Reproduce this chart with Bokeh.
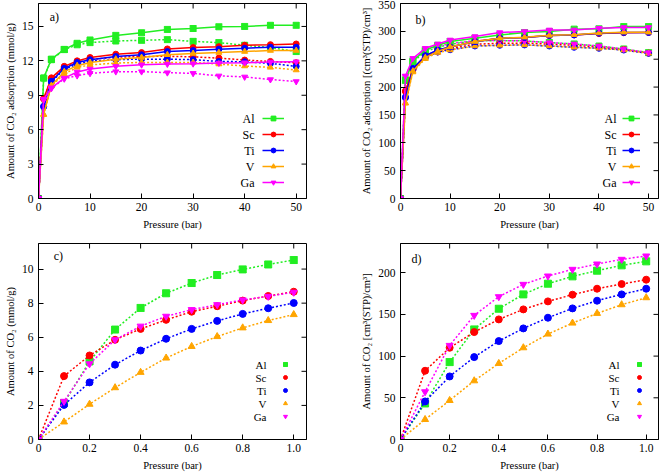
from bokeh.plotting import figure
from bokeh.layouts import column, row
from bokeh.models import Legend, LegendItem, FixedTicker, Label, Range1d
from bokeh.embed import file_html
from bokeh.resources import INLINE

# ---------------- data ----------------
metals = ["Al", "Sc", "Ti", "V", "Ga"]
colors = ["#22ee22", "#ff0000", "#0000ff", "#ffa500", "#ff00ff"]
markers = ["square_x", "circle", "circle", "triangle", "inverted_triangle"]

p_high = [0, 1, 2.5, 5, 7.5, 10, 15, 20, 25, 30, 35, 40, 45, 50]
p_low = [0, 0.1, 0.2, 0.3, 0.4, 0.5, 0.6, 0.7, 0.8, 0.9, 1.0]

# panel a (mmol/g, high pressure): solid and dotted curves
a_Al_solid = [0, 10.5, 12.15, 13.0, 13.53, 13.82, 14.22, 14.45, 14.74, 14.82, 14.97, 15.0, 15.1, 15.1]
a_Al_dotted = [0, 10.5, 12.1, 12.98, 13.4, 13.59, 13.73, 13.79, 13.85, 13.7, 13.59, 13.36, 13.16, 12.81]
a_Sc_solid = [0, 8.7, 10.52, 11.52, 12.0, 12.29, 12.58, 12.72, 13.04, 13.16, 13.24, 13.36, 13.41, 13.47]
a_Sc_dotted = [0, 8.7, 10.45, 11.42, 11.88, 12.12, 12.32, 12.38, 12.4, 12.35, 12.24, 12.07, 11.95, 11.84]
a_Ti_solid = [0, 8.04, 10.22, 11.35, 11.86, 12.1, 12.38, 12.53, 12.81, 12.9, 13.02, 13.1, 13.19, 13.19]
a_Ti_dotted = [0, 8.0, 10.15, 11.27, 11.72, 11.98, 12.1, 12.15, 12.15, 12.1, 11.95, 11.92, 11.78, 11.52]
a_V_solid = [0, 7.35, 9.85, 11.06, 11.58, 11.86, 12.15, 12.29, 12.53, 12.64, 12.72, 12.81, 12.9, 12.9]
a_V_dotted = [0, 7.3, 9.8, 10.86, 11.43, 11.64, 11.81, 11.86, 11.86, 11.86, 11.72, 11.55, 11.43, 11.2]
a_Ga_solid = [0, 8.65, 9.65, 10.5, 11.03, 11.29, 11.52, 11.66, 11.72, 11.75, 11.81, 11.84, 11.9, 11.92]
a_Ga_dotted = [0, 8.6, 9.6, 10.43, 10.71, 10.91, 11.06, 11.06, 10.97, 10.91, 10.69, 10.6, 10.37, 10.2]

# panel b (cm3(STP)/cm3, high pressure)
b_Al_solid = [0, 213, 247, 266.5, 275, 281.7, 287.6, 293.6, 297.9, 299.7, 304, 304.5, 308.5, 308.5]
b_Al_dotted = [0, 212, 245, 264, 271, 277, 283, 283.5, 282.8, 279.8, 277.4, 273.7, 268.4, 261.8]
b_Sc_solid = [0, 193, 232, 256, 266, 272, 281.7, 287.6, 289, 292.5, 293.6, 296, 297.5, 298]
b_Sc_dotted = [0, 192, 231, 254, 263, 269, 277, 278.5, 279, 277, 275, 272, 267.5, 261]
b_Ti_solid = [0, 182, 233.5, 256.4, 266.5, 272, 281.5, 287.5, 289, 292.5, 293.6, 296.7, 298, 298]
b_Ti_dotted = [0, 181, 231, 253, 263, 267, 273.7, 275, 275.6, 273.7, 271.4, 269.6, 266.5, 260.6]
b_V_solid = [0, 171.5, 228.7, 252.8, 264, 272, 281.7, 287.6, 289.5, 292.8, 294, 297, 298.5, 298.5]
b_V_dotted = [0, 171, 227, 251, 262, 266.5, 273.7, 275, 275.6, 273.7, 271.4, 269.6, 266.5, 260.6]
b_Ga_solid = [0, 220, 251.6, 269.6, 277.4, 284.6, 290.7, 297.9, 299.7, 302.6, 302.6, 305.7, 307, 307]
b_Ga_dotted = [0, 219, 249, 267, 273, 278, 283.5, 283.5, 282.8, 279.8, 277.4, 273.7, 268.4, 261.8]

# panel c (mmol/g, low pressure)
c_Al = [0, 2.14, 4.58, 6.45, 7.72, 8.58, 9.18, 9.65, 9.98, 10.27, 10.53]
c_Sc = [0, 3.72, 4.93, 5.85, 6.49, 7.02, 7.5, 7.82, 8.15, 8.42, 8.67]
c_Ti = [0, 2.03, 3.35, 4.39, 5.22, 5.91, 6.49, 6.96, 7.37, 7.7, 8.01]
c_V = [0, 1.03, 2.07, 3.04, 3.94, 4.78, 5.46, 6.04, 6.55, 6.98, 7.33]
c_Ga = [0, 2.24, 4.44, 5.85, 6.65, 7.23, 7.62, 7.91, 8.19, 8.4, 8.64]

# panel d (cm3(STP)/cm3, low pressure)
d_Al = [0, 43.2, 92.8, 132, 156.8, 174, 186.8, 195.6, 202.4, 208.8, 213.6]
d_Sc = [0, 82.4, 110, 128.8, 144, 156, 165.6, 173.6, 180.8, 186.4, 191.6]
d_Ti = [0, 45.6, 75.6, 98.8, 118, 133.2, 146, 157.2, 166.4, 174, 180.8]
d_V = [0, 24, 46.8, 70.4, 91.2, 110, 126.4, 139.6, 151.2, 161.6, 170]
d_Ga = [0, 57.2, 112.8, 148.8, 171.2, 186, 196, 204, 210.4, 216, 220]

a_xticks = [0, 10, 20, 30, 40, 50]
a_yticks = [0, 3, 6, 9, 12, 15]
b_yticks = [0, 50, 100, 150, 200, 250, 300, 350]
c_xticks = [0, 0.2, 0.4, 0.6, 0.8, 1.0]
c_xtick_labels = ["0", "0.2", "0.4", "0.6", "0.8", "1.0"]
c_yticks = [0, 2, 4, 6, 8, 10]
d_yticks = [0, 50, 100, 150, 200]

x_label = "Pressure (bar)"
a_ylabel = "Amount of CO\u2082 adsorption (mmol/g)"
b_ylabel = "Amount of CO\u2082 adsorption [(cm\u00b3(STP)/cm\u00b3]"
c_ylabel = "Amount of CO\u2082 (mmol/g)"
d_ylabel = "Amount of CO\u2082 [cm\u00b3(STP)/cm\u00b3]"

SERIF = "Liberation Serif"
TICK_LEN = 5

# shared grid geometry (same borders and frame sizes per row / column)
LEFT_W, RIGHT_W = 268, 258          # frame widths of left / right column
TOP_H, BOT_H = 195, 196             # frame heights of top / bottom row
L_BORD = (38, 29)                   # left column: left / right border
R_BORD = (65, 3)                    # right column: left / right border
T_BORD = (3, 38)                    # top row: top / bottom border
B_BORD = (7, 35)                    # bottom row: top / bottom border


def style_axis(ax, ticks, size="11.5px"):
    ax.ticker = FixedTicker(ticks=ticks)
    ax.axis_line_color = "black"
    ax.major_tick_line_color = "black"
    ax.major_tick_in = TICK_LEN
    ax.major_tick_out = 0
    ax.minor_tick_line_color = None
    ax.major_label_text_font = SERIF
    ax.major_label_text_font_size = size
    ax.major_label_text_color = "black"
    ax.axis_label_text_font = SERIF
    ax.axis_label_text_font_size = "10.5px"
    ax.axis_label_text_font_style = "normal"
    ax.axis_label_text_color = "black"


def make_fig(frame, xr, yr, hb, vb, xticks, yticks, ylabel, letter, lpos):
    p = figure(frame_width=frame[0], frame_height=frame[1], title=None,
               x_range=Range1d(*xr), y_range=Range1d(*yr),
               output_backend="svg", toolbar_location=None,
               min_border_left=hb[0], min_border_right=hb[1],
               min_border_top=vb[0], min_border_bottom=vb[1])
    p.xgrid.visible = False
    p.ygrid.visible = False
    p.outline_line_color = "black"
    p.outline_line_alpha = 1
    p.outline_line_width = 1
    style_axis(p.xaxis[0], xticks)
    style_axis(p.yaxis[0], yticks)
    p.xaxis[0].axis_label = x_label
    p.yaxis[0].axis_label = ylabel
    p.xaxis[0].major_label_standoff = 4
    p.xaxis[0].axis_label_standoff = 5
    p.yaxis[0].major_label_standoff = 5
    p.yaxis[0].axis_label_standoff = 3
    # mirror ticks on the top and right frame edges (inward, same length as axis ticks)
    dy = TICK_LEN / frame[1] * (yr[1] - yr[0])
    dx = TICK_LEN / frame[0] * (xr[1] - xr[0])
    p.segment(x0=xticks, y0=[yr[1]] * len(xticks), x1=xticks, y1=[yr[1] - dy] * len(xticks),
              line_color="black", line_width=1)
    p.segment(x0=[xr[1]] * len(yticks), y0=yticks, x1=[xr[1] - dx] * len(yticks), y1=yticks,
              line_color="black", line_width=1)
    # panel letter
    lx = xr[0] + lpos[0] * (xr[1] - xr[0])
    ly = yr[0] + lpos[1] * (yr[1] - yr[0])
    p.add_layout(Label(x=lx, y=ly, text=letter, text_font=SERIF, text_font_size="12px",
                       text_baseline="middle", text_color="black"))
    return p


def add_legend(p, frame, xr, yr, items, names, glyph_x, text_x, y_off, gw, gh, spacing, font_size):
    """Glyph column drawn by a Legend; label texts right-aligned to the left of it."""
    leg = Legend(items=items, location=(glyph_x, y_off), orientation="vertical",
                 glyph_width=gw, glyph_height=gh, label_height=gh, label_width=0,
                 spacing=spacing, padding=0, margin=0, label_standoff=0,
                 label_text_font_size="6px", label_text_color=None,
                 border_line_color=None, background_fill_alpha=0)
    p.add_layout(leg, "center")
    n = len(names)
    for i, name in enumerate(names):
        off = y_off + (n - 1 - i) * (gh + spacing) + gh / 2
        ty = yr[0] + off / frame[1] * (yr[1] - yr[0])
        tx = xr[0] + text_x / frame[0] * (xr[1] - xr[0])
        p.add_layout(Label(x=tx, y=ty, text=name, text_align="right", text_baseline="middle",
                           text_font=SERIF, text_font_size=font_size, text_color="black"))


# ---------------- panel a ----------------
a_frame = (LEFT_W, TOP_H)
a_xr, a_yr = (0, 52), (0, 17)
pa = make_fig(a_frame, a_xr, a_yr, L_BORD, T_BORD, a_xticks, a_yticks, a_ylabel, "a)", (0.042, 0.933))
a_solid = [a_Al_solid, a_Sc_solid, a_Ti_solid, a_V_solid, a_Ga_solid]
a_dotted = [a_Al_dotted, a_Sc_dotted, a_Ti_dotted, a_V_dotted, a_Ga_dotted]
items = []
for name, col, mk, ys, yd in zip(metals, colors, markers, a_solid, a_dotted):
    pa.line(p_high, yd, line_color=col, line_width=1.5, line_dash="2 2")
    pa.scatter(p_high, yd, marker=mk, size=6, fill_color=col, line_color=col)
    lr = pa.line(p_high, ys, line_color=col, line_width=1.5)
    sr = pa.scatter(p_high, ys, marker=mk, size=6, fill_color=col, line_color=col)
    items.append(LegendItem(label=name, renderers=[lr, sr]))
add_legend(pa, a_frame, a_xr, a_yr, items, metals, 224, 216, 10, 22, 12, 4, "12px")

# ---------------- panel b ----------------
b_frame = (RIGHT_W, TOP_H)
b_xr, b_yr = (0, 52), (0, 350)
pb = make_fig(b_frame, b_xr, b_yr, R_BORD, T_BORD, a_xticks, b_yticks, b_ylabel, "b)", (0.058, 0.916))
b_solid = [b_Al_solid, b_Sc_solid, b_Ti_solid, b_V_solid, b_Ga_solid]
b_dotted = [b_Al_dotted, b_Sc_dotted, b_Ti_dotted, b_V_dotted, b_Ga_dotted]
items = []
for name, col, mk, ys, yd in zip(metals, colors, markers, b_solid, b_dotted):
    pb.line(p_high, yd, line_color=col, line_width=1.5, line_dash="2 2")
    pb.scatter(p_high, yd, marker=mk, size=6, fill_color=col, line_color=col)
for name, col, mk, ys, yd in zip(metals, colors, markers, b_solid, b_dotted):
    lr = pb.line(p_high, ys, line_color=col, line_width=1.5)
    sr = pb.scatter(p_high, ys, marker=mk, size=6, fill_color=col, line_color=col)
    items.append(LegendItem(label=name, renderers=[lr, sr]))
add_legend(pb, b_frame, b_xr, b_yr, items, metals, 222, 216, 10, 18, 12, 4, "12px")

# ---------------- panel c ----------------
c_frame = (LEFT_W, BOT_H)
c_xr, c_yr = (0, 1.05), (0, 11.5)
pc = make_fig(c_frame, c_xr, c_yr, L_BORD, B_BORD, c_xticks, c_yticks, c_ylabel, "c)", (0.057, 0.936))
pc.xaxis[0].major_label_overrides = dict(zip(c_xticks, c_xtick_labels))
items = []
for name, col, mk, ys in zip(metals, colors, markers, [c_Al, c_Sc, c_Ti, c_V, c_Ga]):
    pc.line(p_low, ys, line_color=col, line_width=1.5, line_dash="2 2")
    sr = pc.scatter(p_low, ys, marker=mk, size=7, fill_color=col, line_color=col)
    items.append(LegendItem(label=name, renderers=[sr]))
add_legend(pc, c_frame, c_xr, c_yr, items, metals, 237, 228, 18, 20, 10, 3, "11px")

# ---------------- panel d ----------------
d_frame = (RIGHT_W, BOT_H)
d_xr, d_yr = (0, 1.05), (0, 235)
pd_ = make_fig(d_frame, d_xr, d_yr, R_BORD, B_BORD, c_xticks, d_yticks, d_ylabel, "d)", (0.043, 0.919))
pd_.xaxis[0].major_label_overrides = dict(zip(c_xticks, c_xtick_labels))
items = []
for name, col, mk, ys in zip(metals, colors, markers, [d_Al, d_Sc, d_Ti, d_V, d_Ga]):
    pd_.line(p_low, ys, line_color=col, line_width=1.5, line_dash="2 2")
    sr = pd_.scatter(p_low, ys, marker=mk, size=7, fill_color=col, line_color=col)
    items.append(LegendItem(label=name, renderers=[sr]))
add_legend(pd_, d_frame, d_xr, d_yr, items, metals, 229, 219, 18, 20, 10, 3, "11px")

layout = column(row(pa, pb, spacing=0), row(pc, pd_, spacing=0), spacing=0)

open("out.html", "w").write(file_html(layout, INLINE))
